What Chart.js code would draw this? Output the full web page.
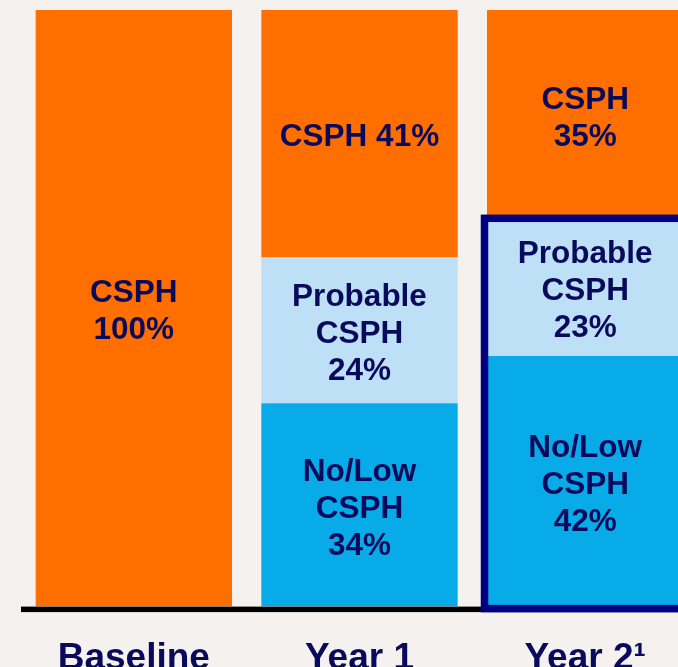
<!DOCTYPE html>
<html><head><meta charset="utf-8">
<script src="https://cdn.jsdelivr.net/npm/chart.js@4"></script>
<style>
html,body{margin:0;padding:0;background:#f5f1ee;overflow:hidden;width:678px;height:667px}
#wrap{position:absolute;left:0;top:0;width:678px;height:667px;overflow:hidden}
#box{position:absolute;left:0;top:0;width:700px;height:703px}
</style></head><body>
<div id="wrap"><div id="box"><canvas id="c"></canvas></div></div>
<script>
const categories = ['Baseline', 'Year 1', 'Year 2\u00B9'];
const noLowValues = [0, 34.1, 42];
const probableValues = [0, 24.4, 23];
const csphValues = [100, 41.5, 35];
const noLowLabels = [null, ['No/Low', 'CSPH', '34%'], ['No/Low', 'CSPH', '42%']];
const probableLabels = [null, ['Probable', 'CSPH', '24%'], ['Probable', 'CSPH', '23%']];
const csphLabels = [['CSPH', '100%'], ['CSPH 41%'], ['CSPH', '35%']];
const highlightIndex = 2;

const NAVY = '#0a0a5c';
const segLabels = [noLowLabels, probableLabels, csphLabels];

const labelPlugin = {
  id: 'segLabels',
  afterDatasetsDraw(chart) {
    const ctx = chart.ctx;
    const area = chart.chartArea;
    ctx.save();
    ctx.fillStyle = '#000000';
    ctx.fillRect(area.left, area.bottom, area.right - area.left, 5.5);
    const pEl = chart.getDatasetMeta(1).data[highlightIndex];
    const nEl = chart.getDatasetMeta(0).data[highlightIndex];
    const left = pEl.x - pEl.width / 2;
    const right = pEl.x + pEl.width / 2;
    ctx.strokeStyle = '#000080';
    ctx.lineWidth = 7.5;
    ctx.strokeRect(left - 2.5, pEl.y - 0.5, right - left + 10, (nEl.base + 2) - (pEl.y - 0.5));
    ctx.fillStyle = NAVY;
    ctx.font = 'bold 31.5px "Liberation Sans", Arial, sans-serif';
    ctx.textAlign = 'center';
    ctx.textBaseline = 'middle';
    const lh = 37;
    segLabels.forEach((arr, di) => {
      const meta = chart.getDatasetMeta(di);
      meta.data.forEach((el, i) => {
        const lines = arr[i];
        if (!lines) return;
        const cy = (el.y + el.base) / 2 + 4;
        const y0 = cy - (lines.length - 1) * lh / 2;
        lines.forEach((t, k) => ctx.fillText(t, el.x, y0 + k * lh));
      });
    });
    ctx.restore();
  }
};

new Chart(document.getElementById('c'), {
  type: 'bar',
  data: {
    labels: categories,
    datasets: [
      { label: 'No/Low CSPH', data: noLowValues, backgroundColor: '#06abe8' },
      { label: 'Probable CSPH', data: probableValues, backgroundColor: '#bde0f7' },
      { label: 'CSPH', data: csphValues, backgroundColor: '#ff6f00' }
    ]
  },
  options: {
    responsive: true,
    maintainAspectRatio: false,
    animation: false,
    events: [],
    layout: { padding: { top: 10, left: 21, right: 2, bottom: 0 } },
    datasets: { bar: { categoryPercentage: 1, barPercentage: 0.87, borderWidth: 0 } },
    plugins: { legend: { display: false }, tooltip: { enabled: false } },
    scales: {
      x: {
        stacked: true,
        grid: { display: false },
        border: { display: false },
        ticks: {
          color: NAVY,
          padding: 22,
          maxRotation: 0,
          font: { family: '"Liberation Sans", Arial, sans-serif', size: 37, weight: 'bold' }
        }
      },
      y: { stacked: true, display: false, min: 0, max: 100 }
    }
  },
  plugins: [labelPlugin]
});
</script>
</body></html>
